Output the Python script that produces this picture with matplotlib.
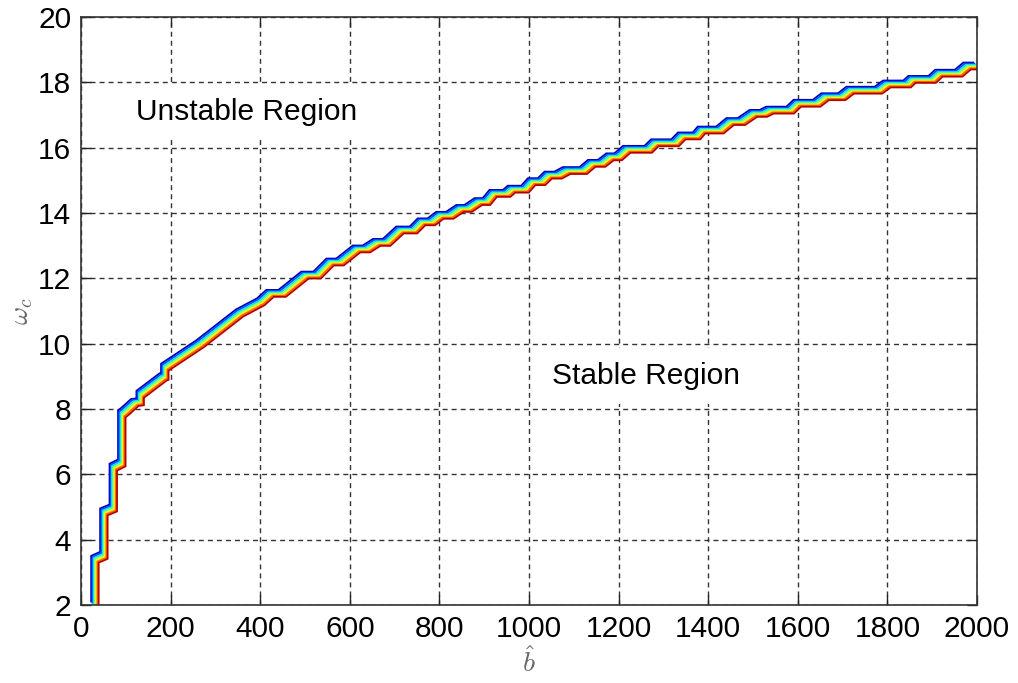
import numpy as np
import matplotlib
matplotlib.use("Agg")
import matplotlib.pyplot as plt
from matplotlib.transforms import offset_copy

plt.rcParams['font.family'] = ['Liberation Sans', 'DejaVu Sans']
plt.rcParams['mathtext.fontset'] = 'cm'

# stability boundary (b_hat, omega_c), staircase from the sampled sweep
b_hat = [31, 31, 51, 51, 72, 72, 91, 91, 100, 120, 132, 132, 183, 187, 187,
         266, 354, 401, 422, 449, 500, 527, 556, 578, 615, 637, 660, 682,
         712, 742, 760, 782, 801, 823, 846, 864, 887, 905, 920, 950, 961, 991,
         1006, 1028, 1043, 1065, 1084, 1121, 1140, 1162, 1181, 1199, 1218,
         1266, 1281, 1326, 1341, 1374, 1385, 1426, 1449, 1474, 1501, 1523,
         1538, 1583, 1599, 1642, 1661, 1698, 1717, 1780, 1799, 1844, 1855,
         1900, 1915, 1959, 1978, 2000]
omega_c = [2.00, 3.40, 3.52, 4.85, 4.97, 6.22, 6.35, 7.85, 7.95, 8.20, 8.22,
           8.45, 8.98, 9.00, 9.28, 10.00, 10.94, 11.28, 11.54, 11.54, 12.10,
           12.10, 12.50, 12.50, 12.90, 12.90, 13.10, 13.10, 13.48, 13.48,
           13.73, 13.73, 13.93, 13.93, 14.14, 14.14, 14.35, 14.35, 14.60,
           14.60, 14.73, 14.73, 14.96, 14.96, 15.16, 15.16, 15.30, 15.30,
           15.52, 15.52, 15.72, 15.72, 15.95, 15.95, 16.15, 16.15, 16.36,
           16.36, 16.54, 16.54, 16.80, 16.80, 17.05, 17.05, 17.15, 17.15,
           17.36, 17.36, 17.56, 17.56, 17.76, 17.76, 17.95, 17.95, 18.09,
           18.09, 18.28, 18.28, 18.50, 18.50]

n_levels = 7
x_ticks = np.arange(0, 2001, 200)
y_ticks = np.arange(2, 21, 2)

fig = plt.figure(figsize=(10.18, 6.83), dpi=100)
ax = fig.add_axes([0.0796, 0.1142, 0.8801, 0.8609])

colors = plt.cm.jet(np.linspace(0.05, 0.95, n_levels))
for k, c in enumerate(colors):
    s = k - (n_levels - 1) / 2
    tr = offset_copy(ax.transData, fig=fig, x=1.25 * s, y=-1.15 * s, units='dots')
    ax.plot(b_hat, omega_c, color=c, lw=1.3, transform=tr, solid_joinstyle='miter')

ax.set_xlim(0, 2000)
ax.set_ylim(2, 20)
ax.set_xticks(x_ticks)
ax.set_yticks(y_ticks)
ax.grid(True, ls=(0, (3.6, 2.9)), color='#333333', lw=1.0)
ax.tick_params(direction='in', length=7, width=1, top=True, right=True,
               labelsize=21.5, pad=7, colors='#222222', labelcolor='black')
for sp in ax.spines.values():
    sp.set_color('#333333')
    sp.set_linewidth(1.2)

ax.set_xlabel(r'$\hat{b}$', fontsize=20, color='#666666', va='center')
ax.xaxis.set_label_coords(0.5, -0.098)
ax.set_ylabel(r'$\omega_c$', fontsize=20, color='#666666', va='center')
ax.yaxis.set_label_coords(-0.066, 0.5)

box = dict(facecolor='white', edgecolor='none', pad=10)
ax.text(123, 17.1, 'Unstable Region', fontsize=21.5, va='center', ha='left', bbox=box)
ax.text(1052, 9.0, 'Stable Region', fontsize=21.5, va='center', ha='left', bbox=box)

fig.savefig('out.png', dpi=100)
